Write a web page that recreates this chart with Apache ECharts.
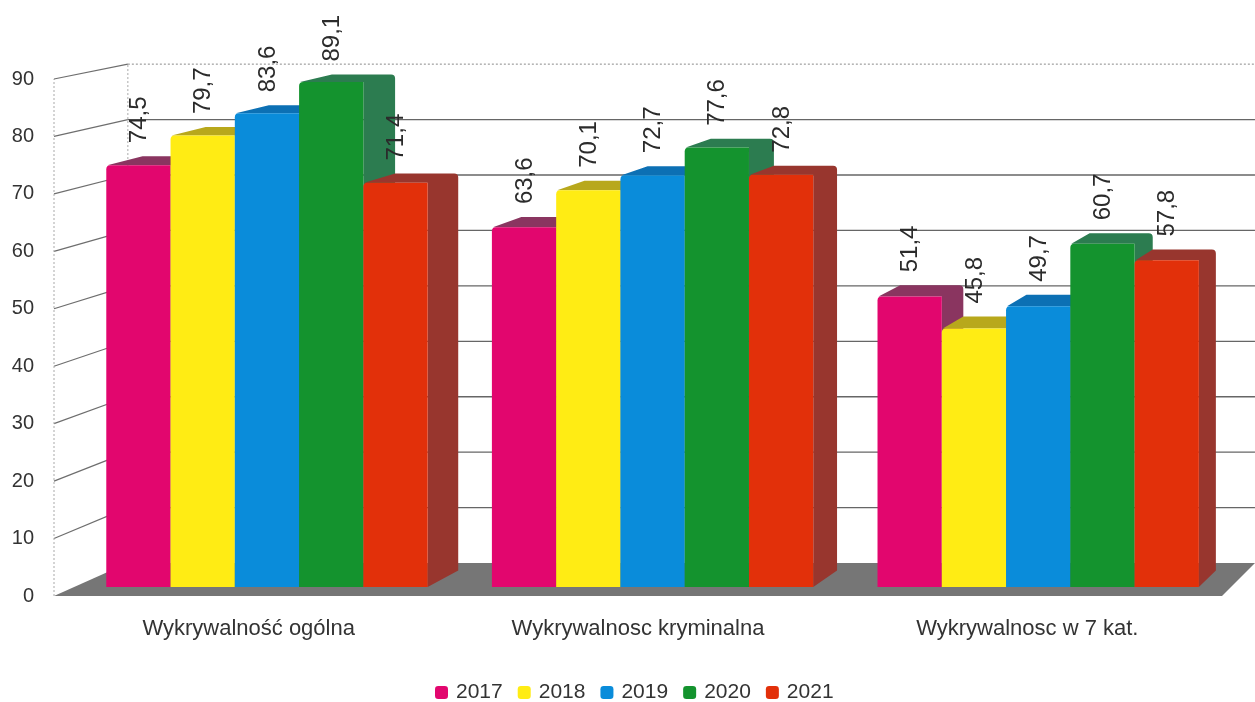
<!DOCTYPE html>
<html><head><meta charset="utf-8">
<style>html,body{margin:0;padding:0;background:#fff}#c{width:1255px;height:702px}</style>
<script src="https://cdn.jsdelivr.net/npm/echarts@6/dist/echarts.min.js"></script>
</head><body><div id="c"></div>
<script>
const categories = ['Wykrywalność ogólna', 'Wykrywalnosc kryminalna', 'Wykrywalnosc w 7 kat.'];
const years = ['2017', '2018', '2019', '2020', '2021'];
const v2017 = [74.5, 63.6, 51.4];
const v2018 = [79.7, 70.1, 45.8];
const v2019 = [83.6, 72.7, 49.7];
const v2020 = [89.1, 77.6, 60.7];
const v2021 = [71.4, 72.8, 57.8];
const valueTicks = [10, 20, 30, 40, 50, 60, 70, 80, 90];
const seriesValues = [v2017, v2018, v2019, v2020, v2021];
const frontColors = ['#E2066E', '#FFEC14', '#0A8CDA', '#14932E', '#E2300A'];
const sideColors = ['#8A3560', '#B8A81C', '#0C70B4', '#2C7C50', '#98362E'];

// perspective: vanishing point and depths of the 3D box
const VP = [2164, -346], K_BAR_FRONT = 0.00955, K_BAR_BACK = 0.027, K_WALL = 0.035, TOP_INSET = 2;
const proj = (p, k) => [p[0] + (VP[0] - p[0]) * k, p[1] + (VP[1] - p[1]) * k];
const font = s => s + 'px "Liberation Sans", Arial, sans-serif';

function renderWalls(params, api) {
  const v = api.value(0);
  const cs = params.coordSys;
  const y = api.coord([0, v])[1];
  const fl = [cs.x, y], fr = [cs.x + cs.width, y];
  const bl = proj(fl, K_WALL), br = proj(fr, K_WALL);
  const top = v === 90;
  const line = (a, b, st) => ({type: 'line', shape: {x1: a[0], y1: a[1], x2: b[0], y2: b[1]}, style: st, silent: true});
  const children = [
    line(fl, bl, {stroke: '#6e6e6e', lineWidth: 1.2}),
    line(bl, br, {stroke: top ? '#8a8a8a' : '#666', lineWidth: top ? 1 : 1.3, lineDash: top ? [2, 2] : null})
  ];
  if (top) {
    const f0 = [cs.x, cs.y + cs.height], b0 = proj(f0, K_WALL), fr0 = [cs.x + cs.width, cs.y + cs.height];
    const dot = {stroke: '#aaa', lineWidth: 1, lineDash: [2, 2]};
    children.unshift(
      {type: 'polygon', shape: {points: [f0, fr0, proj(fr0, K_WALL), b0]}, style: {fill: '#767676'}},
      line(f0, fl, dot), line(b0, bl, dot));
  }
  return {type: 'group', children};
}

function renderBar(params, api) {
  const i = params.seriesIndex - 1;
  const idx = api.value(0), val = api.value(1);
  const band = api.size([1, 0])[0], w = band / 6;
  const c = api.coord([idx, val]), base = api.coord([idx, 0]);
  const x1 = c[0] - band * 5 / 12 + i * w, x2 = x1 + w;
  const P = (x, y, k) => proj([x, y], k);
  const ft = c[1];
  const fl = P(x1, ft, K_BAR_FRONT), fr = P(x2, ft, K_BAR_FRONT);
  const bl = P(x1, ft, K_BAR_BACK), br = P(x2, ft, K_BAR_BACK);
  const fb = P(x2, base[1], K_BAR_FRONT), bb = P(x2, base[1], K_BAR_BACK);
  const fbl = P(x1, base[1], K_BAR_FRONT);
  [fl, fr, bl, br].forEach(p => p[1] += TOP_INSET);
  const r = 4;
  const front = `M${fbl[0]} ${fbl[1]}L${fl[0]} ${fl[1] + r}Q${fl[0]} ${fl[1]} ${fl[0] + r} ${fl[1]}L${fr[0]} ${fr[1]}L${fb[0]} ${fb[1]}Z`;
  const back = `M${fl[0] + 1} ${fl[1]}L${bl[0]} ${bl[1]}L${br[0] - r} ${br[1]}Q${br[0]} ${br[1]} ${br[0]} ${br[1] + r}L${bb[0]} ${bb[1]}L${fb[0]} ${fb[1]}L${fr[0]} ${fr[1]}Z`;
  return {type: 'group', children: [
    {type: 'path', shape: {pathData: back}, style: {fill: sideColors[i]}},
    {type: 'path', shape: {pathData: front}, style: {fill: frontColors[i]}},
    {type: 'text', x: (fl[0] + fr[0]) / 2 + 1, y: bl[1] - 13, rotation: Math.PI / 2, z2: 100,
     style: {text: val.toFixed(1).replace('.', ','), font: font(24), fill: '#2b2b2b', align: 'left', verticalAlign: 'middle'}}
  ]};
}

const chart = echarts.init(document.getElementById('c'), null, {renderer: 'canvas'});
chart.setOption({
  animation: false,
  backgroundColor: '#fff',
  grid: {left: 54, right: 33, top: 79, bottom: 106, containLabel: false},
  xAxis: {type: 'category', data: categories, axisLine: {show: false}, axisTick: {show: false},
    axisLabel: {fontFamily: 'Liberation Sans', fontSize: 22, color: '#333', margin: 22, interval: 0}},
  yAxis: {type: 'value', min: 0, max: 90, interval: 10, axisLine: {show: false}, axisTick: {show: false},
    splitLine: {show: false}, axisLabel: {fontFamily: 'Liberation Sans', fontSize: 20, color: '#333', margin: 20}},
  legend: {data: years, bottom: -6, left: 430, icon: 'roundRect', itemWidth: 13, itemHeight: 13, itemGap: 15,
    textStyle: {fontFamily: 'Liberation Sans', fontSize: 21, color: '#333', padding: [0, 0, 0, 3]}},
  series: [
    {type: 'custom', name: 'wall', silent: true, renderItem: renderWalls, encode: {y: 0}, data: valueTicks.map(v => [v]), clip: false},
  ].concat(years.map((y, i) => ({
    type: 'custom', name: y, renderItem: renderBar, itemStyle: {color: frontColors[i]},
    encode: {x: 0, y: 1}, data: seriesValues[i].map((v, j) => [j, v]), clip: false
  })))
});
</script></body></html>
